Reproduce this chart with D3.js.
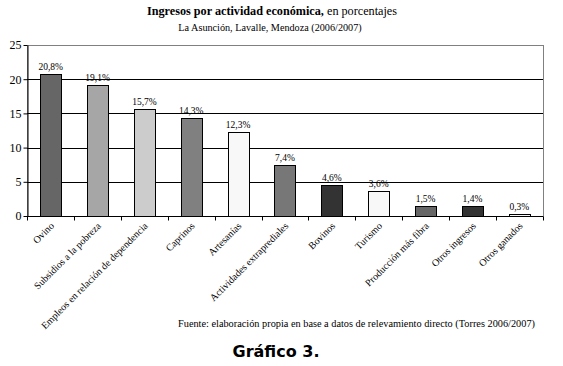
<!DOCTYPE html>
<html>
<head>
<meta charset="utf-8">
<script src="https://cdn.jsdelivr.net/npm/d3@7"></script>
<style>
  body { margin: 0; background: #fff; }
  svg { display: block; }
</style>
</head>
<body>
<div id="general"></div>
<script>
const w = 563, h = 366;
const m = { l: 27, r: 20, t: 45, b: 150 };
m.w = w - m.l - m.r;
m.h = h - m.t - m.b;
const serif = "Liberation Serif, DejaVu Serif, serif";

const categories = ["Ovino", "Subsidios a la pobreza", "Empleos en relación de dependencia", "Caprinos", "Artesanías",
  "Actividades extraprediales", "Bovinos", "Turismo", "Producción más fibra", "Otros ingresos", "Otros ganados"];
const values = [20.8, 19.1, 15.7, 14.3, 12.3, 7.4, 4.6, 3.6, 1.5, 1.4, 0.3];
const labels = ["20,8%", "19,1%", "15,7%", "14,3%", "12,3%", "7,4%", "4,6%", "3,6%", "1,5%", "1,4%", "0,3%"];
const fills = ["#666666", "#a6a6a6", "#cccccc", "#808080", "#f8f8f8", "#777777", "#333333", "#f8f8f8", "#666666", "#333333", "#f8f8f8"];
const yTicks = [0, 5, 10, 15, 20, 25];

const data = categories.map((c, i) => ({ cat: c, v: values[i], label: labels[i], fill: fills[i] }));

const svg = d3.select("#general").append("svg").attr("width", w).attr("height", h)
  .attr("font-family", serif);
const g = svg.append("g").attr("transform", `translate(${m.l},${m.t})`);

const x = d3.scaleBand().domain(categories).range([0, m.w]).paddingInner(0.55).paddingOuter(0.28);
const y = d3.scaleLinear().domain([0, 25]).range([m.h, 0]);

// plot border (gray)
g.append("rect").attr("x", 0.5).attr("y", 0.5).attr("width", m.w).attr("height", m.h)
  .attr("fill", "none").attr("stroke", "#808080").attr("stroke-width", 1);

// gridlines
g.append("g").selectAll("line")
  .data(yTicks.filter(d => d > 0 && d < 25))
  .join("line")
  .attr("x1", 0).attr("x2", m.w)
  .attr("y1", d => Math.round(y(d)) + 0.5).attr("y2", d => Math.round(y(d)) + 0.5)
  .attr("stroke", "#000").attr("stroke-width", 1);

// bars
g.append("g").selectAll("rect")
  .data(data)
  .join("rect")
  .attr("x", d => Math.round(x(d.cat)) + 0.5)
  .attr("y", d => Math.round(y(d.v)) + 0.5)
  .attr("width", Math.round(x.bandwidth()))
  .attr("height", d => Math.round(y(0)) - Math.round(y(d.v)))
  .attr("fill", d => d.fill)
  .attr("stroke", "#000").attr("stroke-width", 1);

// value labels
g.append("g").selectAll("text")
  .data(data)
  .join("text")
  .attr("x", d => x(d.cat) + x.bandwidth() / 2)
  .attr("y", d => y(d.v) - 4)
  .attr("text-anchor", "middle")
  .attr("font-size", 9.5)
  .text(d => d.label);

// y axis
const yAxis = g.append("g").attr("transform", "translate(0.5,0)")
  .call(d3.axisLeft(y).tickValues(yTicks).tickSize(4).tickSizeOuter(0).tickFormat(d => d));
yAxis.attr("font-family", serif).attr("font-size", 12);
yAxis.select(".domain").attr("stroke", "#000");
yAxis.selectAll("text").attr("x", -6);

// x axis with ticks between categories
const xAxisG = g.append("g").attr("transform", `translate(0,${Math.round(m.h) + 0.5})`);
xAxisG.append("line").attr("x1", 0).attr("x2", m.w).attr("stroke", "#000");
xAxisG.selectAll(".tk")
  .data(d3.range(categories.length + 1))
  .join("line")
  .attr("class", "tk")
  .attr("x1", i => Math.round(i * m.w / categories.length) + 0.5)
  .attr("x2", i => Math.round(i * m.w / categories.length) + 0.5)
  .attr("y1", 0).attr("y2", 4)
  .attr("stroke", "#000");

xAxisG.selectAll(".lbl")
  .data(categories)
  .join("text")
  .attr("class", "lbl")
  .attr("transform", d => `translate(${x(d) + x.bandwidth() / 2 + 4},${10}) rotate(-45)`)
  .attr("text-anchor", "end")
  .attr("font-size", 10)
  .text(d => d);

// titles
svg.append("text").attr("x", 272).attr("y", 15).attr("text-anchor", "middle").attr("font-size", 12.2)
  .call(t => {
    t.append("tspan").attr("font-weight", "bold").text("Ingresos por actividad económica,");
    t.append("tspan").text(" en porcentajes");
  });
svg.append("text").attr("x", 270).attr("y", 31).attr("text-anchor", "middle").attr("font-size", 10.2)
  .text("La Asunción, Lavalle, Mendoza (2006/2007)");

svg.append("text").attr("x", 178).attr("y", 327).attr("font-size", 10.3)
  .text("Fuente: elaboración propia en base a datos de relevamiento directo (Torres 2006/2007)");

svg.append("text").attr("x", 276).attr("y", 357).attr("text-anchor", "middle")
  .attr("font-size", 16).attr("font-weight", "bold").attr("font-family", "DejaVu Sans, sans-serif")
  .text("Gráfico 3.");
</script>
</body>
</html>
